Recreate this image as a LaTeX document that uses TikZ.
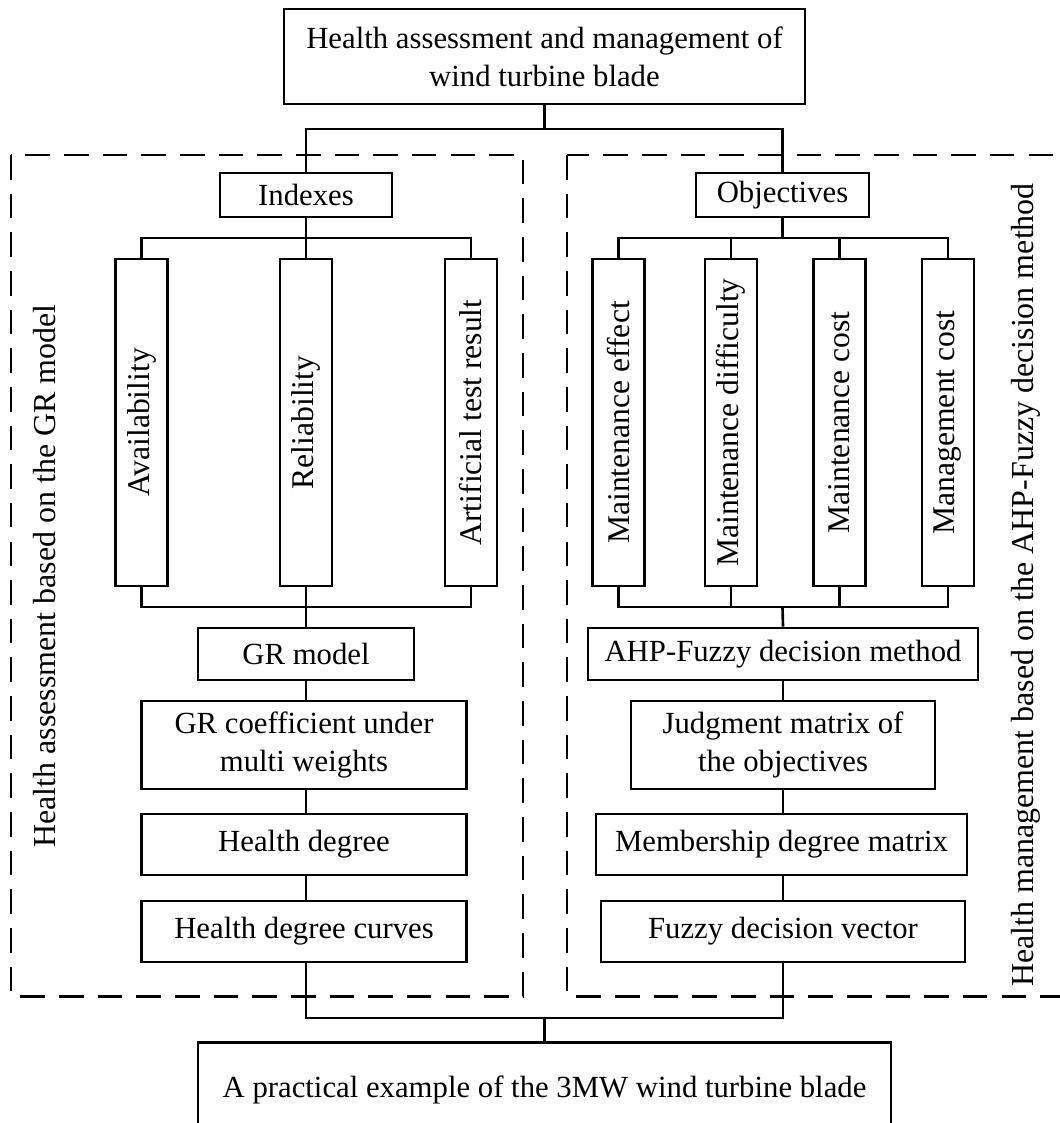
\documentclass[tikz,border=0pt]{standalone}
\usepackage{fontspec}
\setmainfont{Liberation Serif}
\usetikzlibrary{positioning}
\tikzset{
  box/.style={draw, line width=1.5pt, align=center, inner sep=2pt,
    font=\fontsize{17.5}{21.5}\selectfont},
  vbox/.style={box, rotate=90, minimum width=6.54cm, minimum height=1.04cm, inner sep=1pt,
    font=\fontsize{18}{21.5}\selectfont},
  wire/.style={line width=1.5pt},
  zone/.style={line width=1.7pt, dash pattern=on 14pt off 8pt},
  side/.style={rotate=90, inner sep=0pt, font=\fontsize{18.2}{21.5}\selectfont},
}
\begin{document}
\begin{tikzpicture}[x=0.02cm,y=-0.02cm]
  \useasboundingbox (0,0) rectangle (1060,1123);
  \clip (0,0) rectangle (1060,1123);
  \draw[zone] (11,155) rectangle (523,996);
  \draw[zone] (567,155) rectangle (1090,996);
  \node[side] (lgr) at (45,576) {Health assessment based on the GR model};
  \node[side] (lahp) at (1026,585) {Health management based on the AHP-Fuzzy decision method};

  \node[box, minimum width=10.42cm, minimum height=1.9cm] (top) at (544.5,56.5)
    {Health assessment and management of\\wind turbine blade};
  \node[box, minimum width=3.44cm, minimum height=0.88cm] (idx) at (306,195) {Indexes};
  \node[box, minimum width=3.46cm, minimum height=0.88cm] (obj) at (782.5,195) {Objectives};

  \node[vbox] (avail) at (141.5,422.5) {Availability};
  \node[vbox] (reli) at (306,422.5) {Reliability};
  \node[vbox] (arti) at (471,422.5) {Artificial test result};
  \node[vbox] (meff) at (618.5,422.5) {Maintenance effect};
  \node[vbox] (mdif) at (731,422.5) {Maintenance difficulty};
  \node[vbox] (mcost) at (839.5,422.5) {Maintenance cost};
  \node[vbox] (mgmt) at (948,422.5) {Management cost};

  \node[box, minimum width=4.32cm, minimum height=1.04cm] (grm) at (306,654) {GR model};
  \node[box, minimum width=6.5cm, minimum height=1.76cm] (grc) at (304,745)
    {GR coefficient under\\multi weights};
  \node[box, minimum width=6.5cm, minimum height=1.22cm] (hd) at (304,844.5) {Health degree};
  \node[box, minimum width=6.5cm, minimum height=1.22cm] (hdc) at (304,931.5) {Health degree curves};

  \node[box, minimum width=7.8cm, minimum height=1.04cm] (ahp) at (783,654) {AHP-Fuzzy decision method};
  \node[box, minimum width=6.08cm, minimum height=1.76cm] (jm) at (783,745)
    {Judgment matrix of\\the objectives};
  \node[box, minimum width=7.42cm, minimum height=1.22cm] (mdm) at (781.5,844.5) {Membership degree matrix};
  \node[box, minimum width=7.28cm, minimum height=1.22cm] (fdv) at (783,931.5) {Fuzzy decision vector};

  \node[box, minimum width=13.86cm, minimum height=1.9cm] (ex) at (544.5,1090)
    {A practical example of the 3MW wind turbine blade};

  \coordinate (j1) at (544.5,129);
  \coordinate (j2) at (306,238);
  \coordinate (j3) at (306,607);
  \coordinate (j4) at (782.5,238);
  \coordinate (j5) at (782.5,607);
  \coordinate (j6) at (544.5,1018);

  \draw[wire] (top.south) -- (j1);
  \draw[wire] (idx.north) |- (j1) -| (obj.north);
  \draw[wire] (idx.south) -- (j2);
  \draw[wire] (avail.east) |- (j2) -| (arti.east);
  \draw[wire] (reli.east) -- (j2);
  \draw[wire] (avail.west) |- (j3) -| (arti.west);
  \draw[wire] (reli.west) -- (grm.north);
  \draw[wire] (obj.south) -- (j4);
  \draw[wire] (meff.east) |- (j4) -| (mgmt.east);
  \draw[wire] (mdif.east) |- (j4);
  \draw[wire] (mcost.east) |- (j4);
  \draw[wire] (meff.west) |- (j5) -| (mgmt.west);
  \draw[wire] (mdif.west) |- (j5);
  \draw[wire] (mcost.west) |- (j5);
  \draw[wire] (j5) -- (ahp.north);
  \draw[wire] (grm.south) -- (grm.south |- grc.north);
  \draw[wire] (grm.south |- grc.south) -- (grm.south |- hd.north);
  \draw[wire] (grm.south |- hd.south) -- (grm.south |- hdc.north);
  \draw[wire] (ahp.south) -- (jm.north);
  \draw[wire] (jm.south) -- (jm.south |- mdm.north);
  \draw[wire] (jm.south |- mdm.south) -- (fdv.north);
  \draw[wire] (grm.south |- hdc.south) |- (j6) -| (fdv.south);
  \draw[wire] (j6) -- (ex.north);
\end{tikzpicture}
\end{document}
